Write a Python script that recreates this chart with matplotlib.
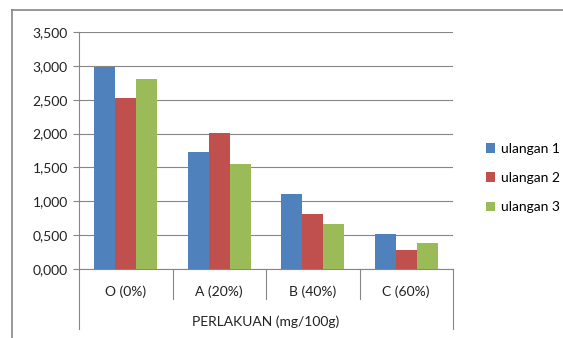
import matplotlib
matplotlib.use("Agg")
import matplotlib.pyplot as plt
import numpy as np
from matplotlib.ticker import FuncFormatter

plt.rcParams['font.family'] = ['Lato', 'DejaVu Sans']

kategori = ['O (0%)', 'A (20%)', 'B (40%)', 'C (60%)']
ulangan_1 = [2.985, 1.730, 1.105, 0.515]
ulangan_2 = [2.525, 2.005, 0.810, 0.280]
ulangan_3 = [2.800, 1.550, 0.665, 0.380]
seri = ['ulangan 1', 'ulangan 2', 'ulangan 3']
warna = ['#4F81BD', '#C0504D', '#9BBB59']
judul_x = 'PERLAKUAN (mg/100g)'

fig = plt.figure(figsize=(5.63, 3.38), dpi=100)
ax = fig.add_axes([79 / 563, 1 - 269 / 338, 374 / 563, 237 / 338])

x = np.arange(len(kategori))
lebar = 0.225
for i, (nilai, nama) in enumerate(zip([ulangan_1, ulangan_2, ulangan_3], seri)):
    ax.bar(x + (i - 1) * lebar, nilai, width=lebar, color=warna[i], label=nama, zorder=3)

ax.set_xlim(-0.5, len(kategori) - 0.5)
ax.set_ylim(0, 3.5)
ax.set_yticks(np.arange(0, 3.51, 0.5))
ax.yaxis.set_major_formatter(FuncFormatter(lambda v, p: f'{v:.3f}'.replace('.', ',')))
ax.grid(axis='y', color='#868686', linewidth=0.8, zorder=0)
for s in ['top', 'right']:
    ax.spines[s].set_visible(False)
ax.spines['left'].set_color('#868686')
ax.spines['bottom'].set_color('#868686')
ax.tick_params(axis='y', length=4, color='#868686', labelsize=10, pad=4, labelcolor='#222222')
ax.set_xticks([])

# label kategori dan pemisah (sumbu bertingkat)
for i, k in enumerate(kategori):
    ax.text(i, -23 / 237 * 3.5, k, ha='center', va='center', fontsize=10, color='#222222',
            transform=ax.transData, clip_on=False)
for b in np.arange(-0.5, len(kategori), 1.0):
    panjang = 60 if b in (-0.5, len(kategori) - 0.5) else 30
    ax.plot([b, b], [0, -panjang / 237 * 3.5], color='#868686', linewidth=0.8, clip_on=False)
ax.text(1.5, -53 / 237 * 3.5, judul_x, ha='center', va='center', fontsize=10, color='#222222')

ax.legend(loc='center left', bbox_to_anchor=(480 / 563, 1 - 178 / 338), bbox_transform=fig.transFigure,
          frameon=False, fontsize=10, handlelength=0.7, handleheight=0.7, handletextpad=0.4,
          labelspacing=1.25, borderaxespad=0)

# bingkai luar
fig.add_artist(plt.Line2D([12 / 563, 1], [1 - 10 / 338] * 2, color='#868686', linewidth=1.2))
fig.add_artist(plt.Line2D([12 / 563] * 2, [0, 1 - 10 / 338], color='#868686', linewidth=1.2))

fig.savefig('out.png', dpi=100)
